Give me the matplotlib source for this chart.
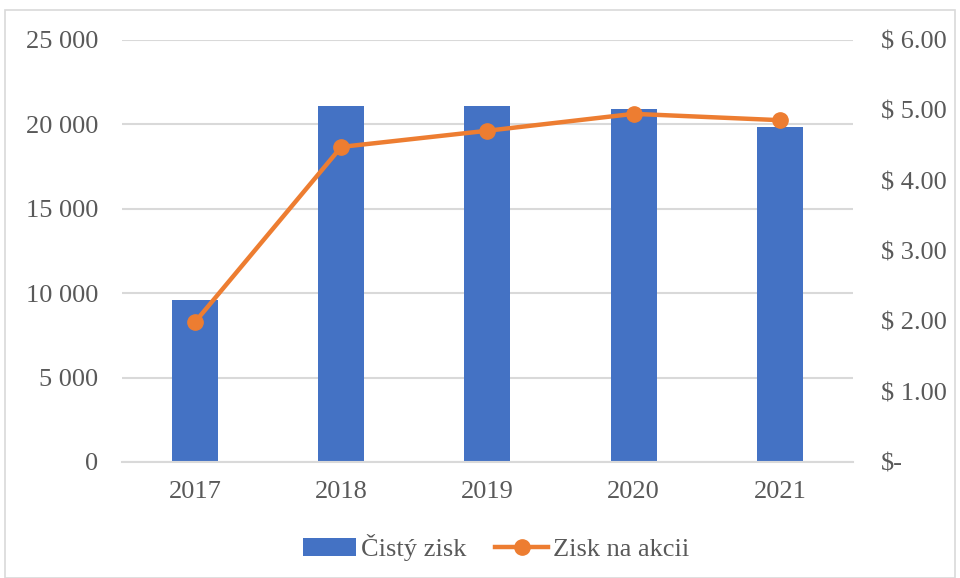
import matplotlib.pyplot as plt
from matplotlib.patches import Rectangle
from matplotlib.ticker import FuncFormatter

plt.rcParams['font.family'] = ['Liberation Serif', 'DejaVu Serif']

years = ['2017', '2018', '2019', '2020', '2021']
cisty_zisk = [9600, 21100, 21100, 20900, 19850]
zisk_na_akcii = [1.99, 4.48, 4.71, 4.95, 4.86]

txt = '#595959'
grid = '#d9d9d9'

fig = plt.figure(figsize=(9.6, 5.78), dpi=100)
ax = fig.add_axes([0.127, 0.2007, 0.7615, 0.7301])
ax2 = ax.twinx()

x = range(len(years))
ax.bar(x, cisty_zisk, width=0.315, color='#4472c4', label='Čistý zisk', zorder=2)
ax2.plot(x, zisk_na_akcii, color='#ed7d31', linewidth=3.2, marker='o', markersize=11,
         label='Zisk na akcii', zorder=3)

ax.set_xlim(-0.5, 4.5)
ax.set_ylim(0, 25000)
ax.set_yticks(range(0, 25001, 5000))
ax.yaxis.set_major_formatter(FuncFormatter(lambda v, p: f'{int(v):,}'.replace(',', ' ')))
ax2.set_ylim(0, 6)
ax2.set_yticks([0, 1, 2, 3, 4, 5, 6])
ax2.yaxis.set_major_formatter(FuncFormatter(lambda v, p: '$-' if v == 0 else f'$ {v:.2f}'))

ax.set_xticks(list(x))
ax.set_xticklabels(years)
ax.yaxis.grid(True, color=grid, linewidth=1.5, zorder=0)
ax.set_axisbelow(True)

for a in (ax, ax2):
    for s in a.spines.values():
        s.set_visible(False)
    a.tick_params(length=0, labelsize=19, colors=txt)
ax.spines['bottom'].set_visible(True)
ax.spines['bottom'].set_color(grid)
ax.spines['bottom'].set_linewidth(1.5)
ax.tick_params(axis='y', pad=17)
ax.tick_params(axis='x', pad=14)
ax2.tick_params(axis='y', pad=20)

h1, l1 = ax.get_legend_handles_labels()
h2, l2 = ax2.get_legend_handles_labels()
fig.legend(h1 + h2, l1 + l2, loc='center', bbox_to_anchor=(0.517, 0.052), ncol=2,
           frameon=False, fontsize=19, labelcolor=txt, handlelength=2.0,
           handletextpad=0.2, columnspacing=1.1)

fig.patches.append(Rectangle((0.005, 0.0), 0.99, 0.982, transform=fig.transFigure,
                             fill=False, edgecolor=grid, linewidth=1.2))

fig.savefig('out.png', dpi=100)
